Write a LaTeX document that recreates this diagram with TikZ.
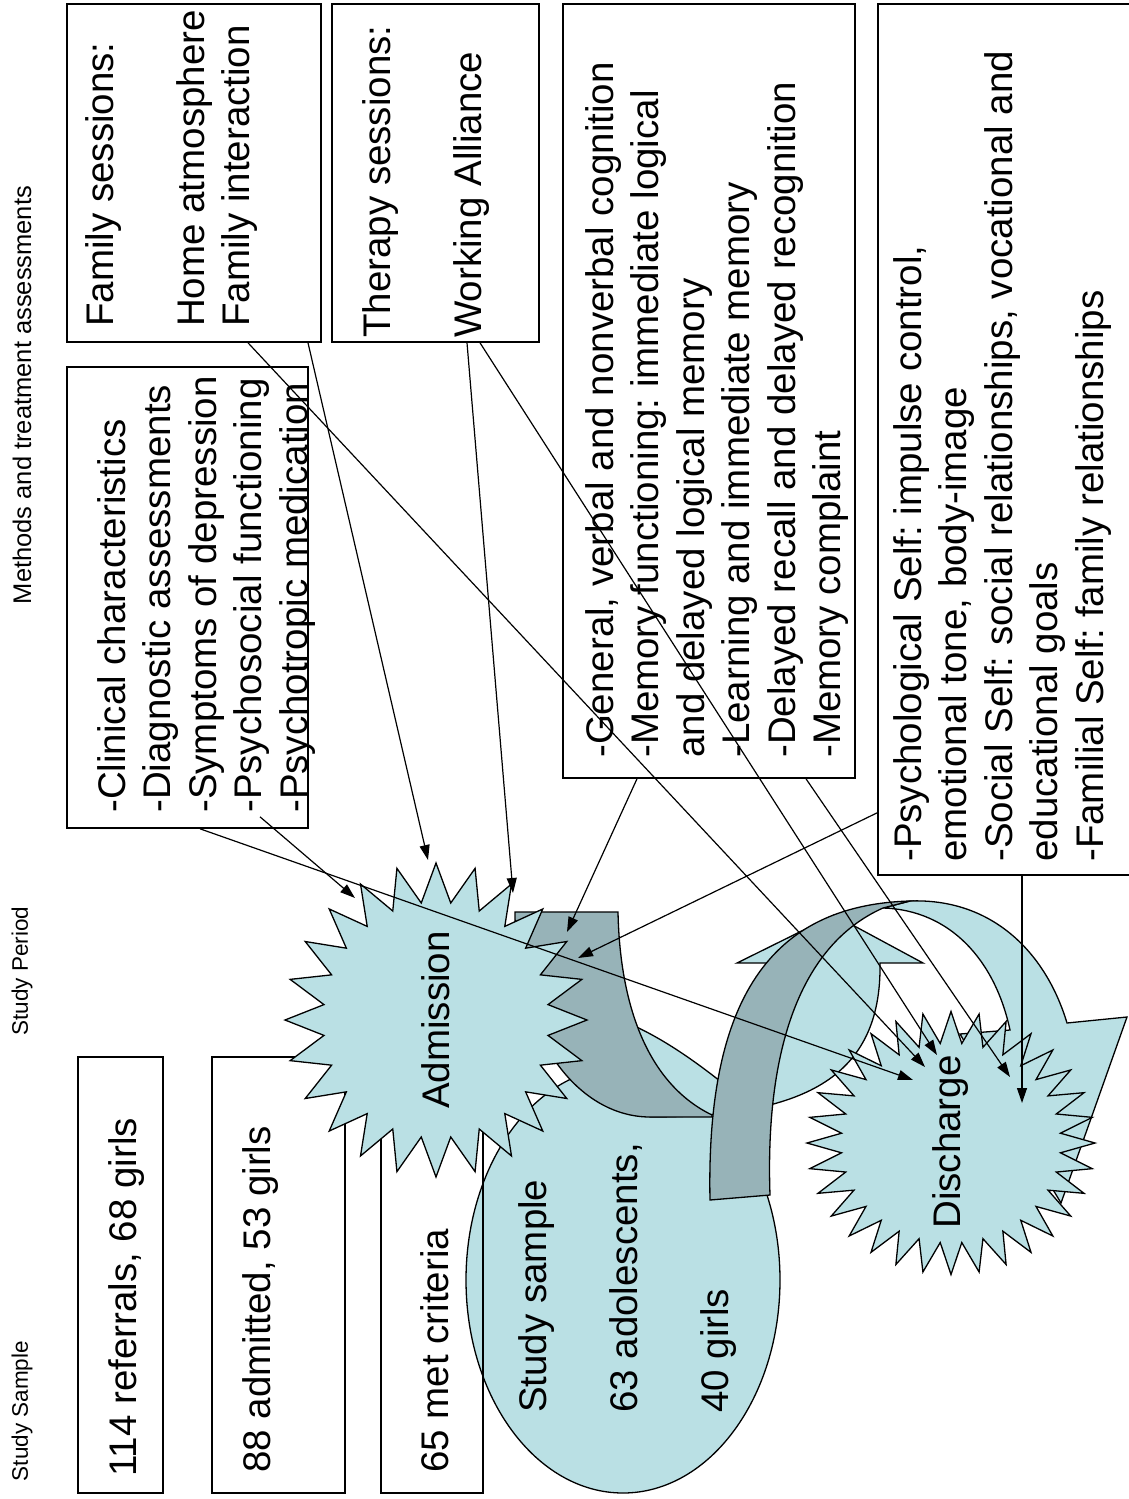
\documentclass[tikz,border=0pt]{standalone}
\usepackage{fontspec}
\setmainfont{Liberation Sans}
\usetikzlibrary{arrows.meta,calc}
\definecolor{cellblue}{RGB}{186,224,228}
\definecolor{cellgrey}{RGB}{151,179,184}
\frenchspacing

\begin{document}
\begin{tikzpicture}[x=1pt,y=-1pt,
  box/.style = {draw, line width=1.6pt, inner sep=0pt},
  txt/.style = {rotate=90, anchor=north west, inner sep=0pt, align=left,
                font=\fontsize{38.5}{45.5}\selectfont},
  head/.style = {rotate=90, inner sep=0pt, font=\fontsize{22.5}{26}\selectfont},
  shade/.style = {draw, line width=1.3pt, fill=cellblue},
  back/.style = {draw, line width=1.3pt, fill=cellgrey},
  link/.style = {line width=1.2pt, -{Triangle[length=15pt,width=10pt]}}]
\useasboundingbox (0,0) rectangle (1129,1499);

% column headings
\node[head] (hsample) at (22,1411) {Study Sample};
\node[head] (hperiod) at (22,971) {Study Period};
\node[head, font=\fontsize{25.5}{29}\selectfont] (hmethods) at (22,395) {Methods and treatment assessments};

% study sample
\draw[shade] (623,1280) ellipse [x radius=157, y radius=213];
\node[txt] (sample) at (518,1413) {Study sample\\ \mbox{}\\ 63 adolescents,\\ \mbox{}\\ 40 girls};

\node[box, minimum width=85pt, minimum height=436pt] (refs) at (120.5,1275) {};
\node[box, minimum width=133pt, minimum height=436pt] (admitted) at (278.5,1275) {};
\node[box, minimum width=102pt, minimum height=436pt] (crit) at (432,1275) {};
\node[txt] (trefs) at (108,1477) {114 referrals, 68 girls};
\node[txt] (tadmitted) at (242,1473) {88 admitted, 53 girls};
\node[txt] (tcrit) at (420,1473) {65 met criteria};

% curved arrow: admission -> study sample
\draw[shade] (620,1020) .. controls (660,1035) and (700,1065) .. (725,1085)
  .. controls (760,1110) and (785,1030) .. (783,963) -- (737,963) -- (834,915)
  -- (923,963) -- (880,963) .. controls (882,1080) and (800,1117) .. (650,1117) -- cycle;
\draw[back] (515,912) -- (618,912) .. controls (620,1010) and (650,1085) .. (712,1115)
  -- (712,1117) -- (650,1117) .. controls (580,1117) and (515,1040) .. (515,912) -- cycle;

% curved arrow: study sample -> discharge
\draw[shade] (883,908) -- (910,901) .. controls (990,898) and (1045,950) .. (1067,1023)
  -- (1127,1017) -- (1061,1203) -- (960,1034) -- (1010,1030)
  .. controls (995,960) and (950,910) .. (883,908) -- cycle;
\draw[back] (710,1200) -- (770,1195) .. controls (765,1050) and (800,945) .. (883,908)
  -- (910,901) .. controls (770,905) and (706,1000) .. (710,1200) -- cycle;

% bursts
\draw[shade] plot[variable=\k, samples at={0,...,47}]
  ({436+(151-38*isodd(\k))*cos(90+7.5*\k)}, {1020-(157-39*isodd(\k))*sin(90+7.5*\k)}) -- cycle;
\node[rotate=90, font=\fontsize{38.5}{45.5}\selectfont] (adm) at (436,1020) {Admission};
\draw[shade] plot[variable=\k, samples at={0,...,63}]
  ({951+(144-34*isodd(\k))*cos(90+5.625*\k)}, {1143-(131.5-31.5*isodd(\k))*sin(90+5.625*\k)}) -- cycle;
\node[rotate=90, font=\fontsize{38.5}{45.5}\selectfont] (dis) at (951,1142) {Discharge};

% assessments
\node[box, minimum width=241pt, minimum height=461pt] (clin) at (187.5,597.5) {};
\node[box, minimum width=254pt, minimum height=338pt] (fam) at (194,173) {};
\node[box, minimum width=207pt, minimum height=338pt] (ther) at (435.5,173) {};
\node[box, minimum width=292pt, minimum height=774pt] (mem) at (709,391) {};
\node[box, minimum width=262pt, minimum height=871pt] (self) at (1009,439.5) {};

\node[txt] (tclin) at (97,813) {-Clinical characteristics\\-Diagnostic assessments\\-Symptoms of depression\\-Psychosocial functioning\\-Psychotropic medication};
\node[txt] (tfam) at (85,327) {Family sessions:\\ \mbox{}\\Home atmosphere\\Family interaction};
\node[txt] (tther) at (362,338) {Therapy sessions:\\ \mbox{}\\Working Alliance};
\node[txt] (tmem) at (585,758) {-General, verbal and nonverbal cognition\\-Memory functioning: immediate logical\\and delayed logical memory\\-Learning and immediate memory\\-Delayed recall and delayed recognition\\-Memory complaint};
\node[txt] (tself) at (893,862) {-Psychological Self: impulse control,\\emotional tone, body-image\\-Social Self: social relationships, vocational and\\educational goals\\-Familial Self: family relationships};

% arrow targets
\coordinate (a1) at ($(adm)+(-81,-122)$);
\coordinate (a2) at ($(adm)+(-8,-160)$);
\coordinate (a3) at ($(adm)+(77,-127)$);
\coordinate (a4) at ($(adm)+(131,-88)$);
\coordinate (a5) at ($(adm)+(142,-62)$);
\coordinate (d1) at ($(dis)+(-38,-62)$);
\coordinate (d2) at ($(dis)+(-26,-75)$);
\coordinate (d3) at ($(dis)+(-14,-87)$);
\coordinate (d4) at ($(dis)+(59,-65)$);
\coordinate (d5) at ($(dis)+(71,-39)$);

\draw[link] ([xshift=72.5pt,yshift=12pt]clin.south) -- (a1);
\draw[link] ([xshift=12.5pt]clin.south) -- (d1);
\draw[link] ([xshift=114pt]fam.south) -- (a2);
\draw[link] ([xshift=54pt]fam.south) -- (d2);
\draw[link] ([xshift=31.5pt]ther.south) -- (a3);
\draw[link] ([xshift=44.5pt]ther.south) -- (d3);
\draw[link] ([xshift=-72pt]mem.south) -- (a4);
\draw[link] ([xshift=97pt]mem.south) -- (d4);
\draw[link] ([yshift=63pt]self.south west) -- (a5);
\draw[link] ([xshift=13pt]self.south) -- (d5);
\end{tikzpicture}
\end{document}
